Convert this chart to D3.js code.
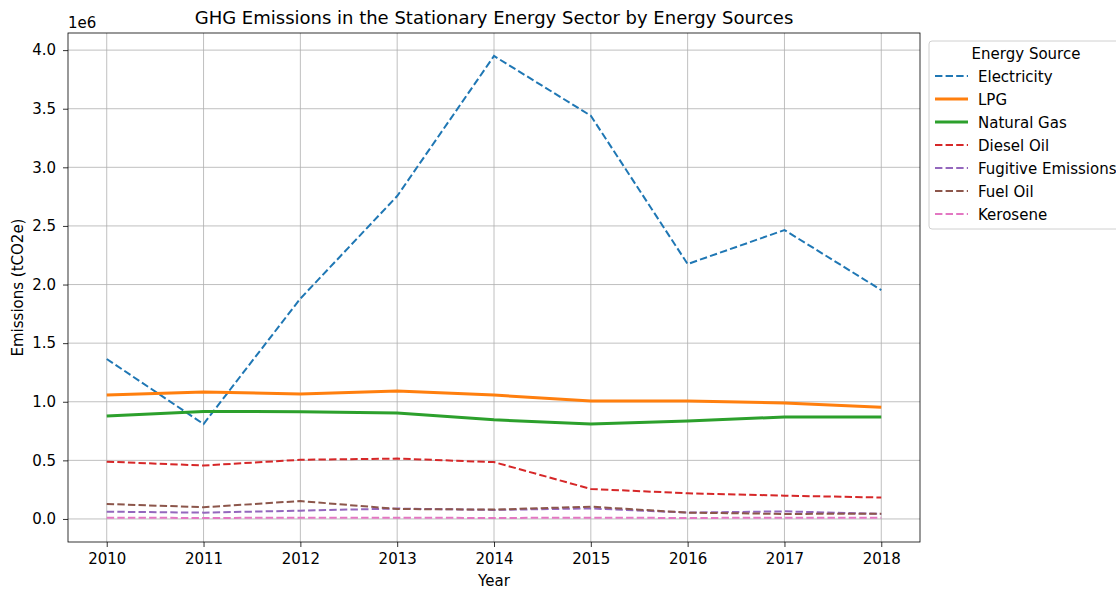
<!DOCTYPE html>
<html><head><meta charset="utf-8">
<script src="https://cdn.jsdelivr.net/npm/d3@7"></script>
<style>
body{margin:0;background:#fff;}
text{font-family:"DejaVu Sans",sans-serif;fill:#000;}
</style></head>
<body><svg id="c" width="1116" height="590"></svg>
<script>
const years = [2010,2011,2012,2013,2014,2015,2016,2017,2018];
const electricity = [1.365e6,0.81e6,1.88e6,2.755e6,3.95e6,3.44e6,2.175e6,2.465e6,1.953e6];
const lpg = [1.057e6,1.083e6,1.066e6,1.092e6,1.057e6,1.006e6,1.006e6,0.99e6,0.953e6];
const naturalGas = [0.878e6,0.917e6,0.915e6,0.904e6,0.846e6,0.81e6,0.836e6,0.87e6,0.87e6];
const dieselOil = [0.489e6,0.456e6,0.505e6,0.515e6,0.485e6,0.256e6,0.219e6,0.199e6,0.183e6];
const fugitive = [0.062e6,0.054e6,0.071e6,0.089e6,0.077e6,0.09e6,0.054e6,0.065e6,0.043e6];
const fuelOil = [0.128e6,0.1e6,0.153e6,0.085e6,0.08e6,0.105e6,0.054e6,0.043e6,0.045e6];
const kerosene = [0.01e6,0.009e6,0.01e6,0.01e6,0.009e6,0.01e6,0.009e6,0.01e6,0.01e6];
const seriesNames = ["Electricity","LPG","Natural Gas","Diesel Oil","Fugitive Emissions","Fuel Oil","Kerosene"];
const seriesValues = [electricity,lpg,naturalGas,dieselOil,fugitive,fuelOil,kerosene];
const colors = ["#1f77b4","#ff7f0e","#2ca02c","#d62728","#9467bd","#8c564b","#e377c2"];
const solid = [false,true,true,false,false,false,false];
const yTicks = [0,0.5e6,1e6,1.5e6,2e6,2.5e6,3e6,3.5e6,4e6];

const svg = d3.select("#c");
const L=68,R=920,T=33,B=542;
const FS=15;
const x = d3.scaleLinear().domain([2009.6,2018.4]).range([L,R]);
const y = d3.scaleLinear().domain([-0.1965e6,4.146e6]).range([B,T]);

// grid
const g = svg.append("g");
g.selectAll(".gx").data(years).enter().append("line")
 .attr("x1",d=>x(d)).attr("x2",d=>x(d)).attr("y1",T).attr("y2",B)
 .attr("stroke","#b0b0b0").attr("stroke-width",0.8);
g.selectAll(".gy").data(yTicks).enter().append("line")
 .attr("y1",d=>y(d)).attr("y2",d=>y(d)).attr("x1",L).attr("x2",R)
 .attr("stroke","#b0b0b0").attr("stroke-width",0.8);

// lines
const line = d3.line().x((d,i)=>x(years[i])).y(d=>y(d));
seriesValues.forEach((vals,k)=>{
  svg.append("path").datum(vals).attr("d",line).attr("fill","none")
   .attr("stroke",colors[k]).attr("stroke-width",solid[k]?3:2)
   .attr("stroke-dasharray",solid[k]?null:"7.4,3.2");
});

// frame
svg.append("rect").attr("x",L).attr("y",T).attr("width",R-L).attr("height",B-T)
 .attr("fill","none").attr("stroke","#000").attr("stroke-width",0.8);

// axes
const xa = svg.append("g").attr("transform",`translate(0,${B})`)
 .call(d3.axisBottom(x).tickValues(years).tickFormat(d3.format("d")).tickSizeOuter(0).tickSize(5).tickPadding(6));
const ya = svg.append("g").attr("transform",`translate(${L},0)`)
 .call(d3.axisLeft(y).tickValues(yTicks).tickFormat(d=>(d/1e6).toFixed(1)).tickSizeOuter(0).tickSize(5).tickPadding(7));
[xa,ya].forEach(a=>{
  a.select(".domain").remove();
  a.selectAll("text").attr("font-size",FS).attr("font-family","DejaVu Sans").attr("fill","#000");
  a.selectAll("line").attr("stroke","#000").attr("stroke-width",0.8);
});

svg.append("text").attr("x",L).attr("y",28).attr("font-size",FS).text("1e6");
svg.append("text").attr("x",(L+R)/2).attr("y",23.5).attr("text-anchor","middle").attr("font-size",18)
 .text("GHG Emissions in the Stationary Energy Sector by Energy Sources");
svg.append("text").attr("x",(L+R)/2).attr("y",586).attr("text-anchor","middle").attr("font-size",FS).text("Year");
svg.append("text").attr("transform",`translate(23,${(T+B)/2}) rotate(-90)`).attr("text-anchor","middle")
 .attr("font-size",FS).text("Emissions (tCO2e)");

// legend
const lg = svg.append("g");
lg.append("rect").attr("x",929).attr("y",41).attr("width",200).attr("height",188).attr("rx",3)
 .attr("fill","#fff").attr("fill-opacity",0.8).attr("stroke","#d0d0d0").attr("stroke-width",1);
lg.append("text").attr("x",1026).attr("y",58.5).attr("text-anchor","middle").attr("font-size",FS).text("Energy Source");
seriesNames.forEach((n,k)=>{
  const yy = 76 + k*23;
  lg.append("line").attr("x1",935).attr("x2",968).attr("y1",yy).attr("y2",yy)
   .attr("stroke",colors[k]).attr("stroke-width",solid[k]?3:2)
   .attr("stroke-dasharray",solid[k]?null:"7.4,3.2");
  lg.append("text").attr("x",978).attr("y",yy+5.5).attr("font-size",FS).text(n);
});
</script></body></html>
